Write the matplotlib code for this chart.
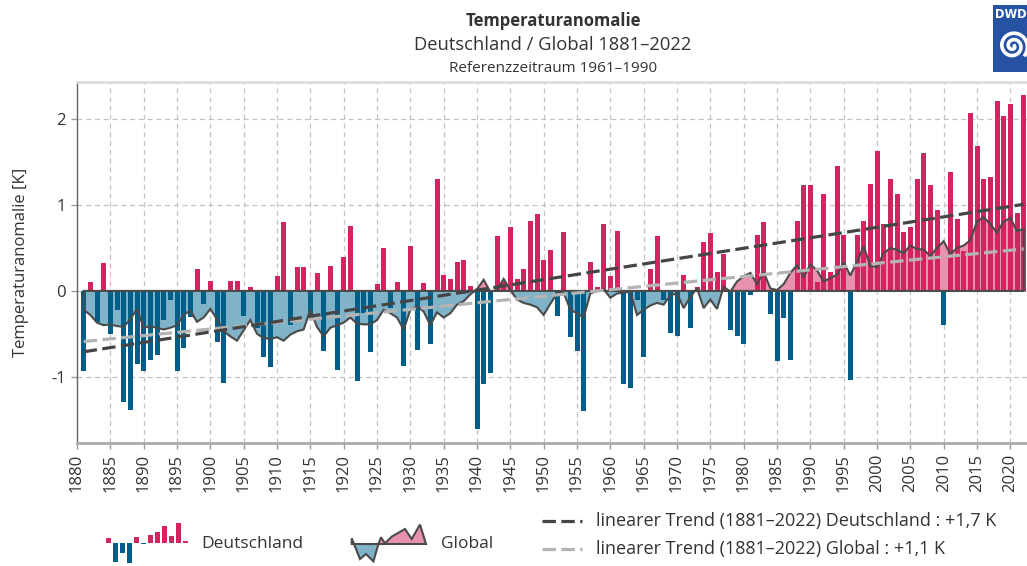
import numpy as np
import matplotlib
matplotlib.use("Agg")
import matplotlib.pyplot as plt
from matplotlib.lines import Line2D

plt.rcParams['font.family'] = ['Open Sans', 'DejaVu Sans']
plt.rcParams['axes.unicode_minus'] = False

# ---------------- data ----------------
years = np.arange(1881, 2023)

de_anomaly = [
    -0.93, 0.10, -0.36, 0.32, -0.50, -0.22, -1.29, -1.39, -0.85, -0.93,   # 1881-1890
    -0.81, -0.75, -0.34, -0.11, -0.93, -0.66, -0.30, 0.26, -0.15, 0.11,    # 1891-1900
    -0.60, -1.07, 0.11, 0.11, -0.29, 0.04, -0.43, -0.77, -0.89, 0.17,      # 1901-1910
    0.80, -0.40, 0.28, 0.28, -0.28, 0.21, -0.70, 0.29, -0.92, 0.39,        # 1911-1920
    0.76, -1.05, -0.26, -0.71, 0.08, 0.50, -0.20, 0.10, -0.87, 0.52,       # 1921-1930
    -0.69, 0.09, -0.62, 1.30, 0.18, 0.14, 0.34, 0.36, 0.06, -1.61,         # 1931-1940
    -1.08, -0.96, 0.64, 0.10, 0.74, 0.14, 0.26, 0.81, 0.90, 0.36,          # 1941-1950
    0.48, -0.29, 0.69, -0.54, -0.70, -1.40, 0.34, 0.05, 0.78, 0.17,        # 1951-1960
    0.70, -1.09, -1.13, -0.11, -0.77, 0.26, 0.64, -0.10, -0.49, -0.53,     # 1961-1970
    0.18, -0.43, 0.05, 0.57, 0.68, 0.22, 0.43, -0.45, -0.52, -0.62,        # 1971-1980
    -0.05, 0.65, 0.80, -0.27, -0.82, -0.31, -0.80, 0.82, 1.23, 1.24,       # 1981-1990
    0.10, 1.13, 0.22, 1.46, 0.65, -1.04, 0.65, 0.82, 1.25, 1.63,           # 1991-2000
    0.78, 1.31, 1.13, 0.69, 0.75, 1.30, 1.61, 1.23, 0.94, -0.40,           # 2001-2010
    1.39, 0.84, 0.47, 2.08, 1.69, 1.30, 1.33, 2.21, 2.04, 2.18,            # 2011-2020
    0.91, 2.28,                                                            # 2021-2022
]

global_anomaly = [
    -0.22, -0.28, -0.37, -0.40, -0.39, -0.41, -0.42, -0.33, -0.21, -0.43,  # 1881-1890
    -0.41, -0.43, -0.45, -0.43, -0.40, -0.28, -0.23, -0.36, -0.31, -0.21,  # 1891-1900
    -0.33, -0.47, -0.53, -0.58, -0.46, -0.34, -0.50, -0.55, -0.56, -0.54,  # 1901-1910
    -0.58, -0.51, -0.47, -0.45, -0.22, -0.42, -0.53, -0.43, -0.40, -0.37,  # 1911-1920
    -0.31, -0.38, -0.39, -0.39, -0.34, -0.22, -0.26, -0.31, -0.45, -0.22,  # 1921-1930
    -0.18, -0.24, -0.40, -0.25, -0.31, -0.26, -0.16, -0.12, -0.04, 0.02,   # 1931-1940
    0.13, -0.01, 0.01, 0.14, 0.01, -0.10, -0.14, -0.16, -0.19, -0.28,      # 1941-1950
    -0.15, -0.03, -0.02, -0.22, -0.26, -0.31, -0.03, 0.00, 0.02, -0.08,    # 1951-1960
    -0.03, -0.02, -0.01, -0.28, -0.22, -0.17, -0.14, -0.16, -0.05, -0.03,  # 1961-1970
    -0.20, -0.07, 0.03, -0.20, -0.10, -0.21, 0.05, -0.01, 0.11, 0.17,      # 1971-1980
    0.21, 0.08, 0.22, 0.03, 0.01, 0.08, 0.21, 0.30, 0.16, 0.31,            # 1981-1990
    0.24, 0.11, 0.15, 0.19, 0.33, 0.18, 0.34, 0.52, 0.29, 0.28,            # 1991-2000
    0.44, 0.50, 0.48, 0.44, 0.53, 0.49, 0.48, 0.41, 0.50, 0.58,            # 2001-2010
    0.43, 0.50, 0.53, 0.59, 0.81, 0.86, 0.78, 0.68, 0.81, 0.85,            # 2011-2020
    0.70, 0.72,                                                            # 2021-2022
]

trend_years = [1881, 2022]
trend_de = [-0.71, 1.01]
trend_global = [-0.59, 0.49]

x_ticks = list(range(1880, 2021, 5))
y_ticks = [-1, 0, 1, 2]

# legend icon data (decorative mini-charts)
icon_de_values = [0.30, -1.05, -0.55, -1.10, 0.35, -0.08, 0.45, 0.60, 0.95, 0.40, 1.15, 0.12]
icon_gl_x = [0, 8.3, 14.3, 21.7, 26.7, 29.3, 33.3, 40, 53.3, 60, 68.3, 74.3]
icon_gl_values = [0.34, -0.90, -0.60, -1.04, 0.0, 0.40, 0.04, 0.44, 0.90, 0.30, 1.16, 0.0]

# ---------------- style ----------------
C_POS = '#d3245d'
C_NEG = '#005f88'
C_FILL_NEG = '#80b2c8'
C_FILL_POS = '#e892ae'
C_LINE = '#4a4a4a'
C_TREND_DE = '#454545'
C_TREND_GL = '#b4b4b4'
C_TEXT = '#333333'
W, H = 1027, 566

de = np.array(de_anomaly)
gl = np.array(global_anomaly)

fig = plt.figure(figsize=(W / 100, H / 100), dpi=100)
fig.patch.set_facecolor('white')

ax = fig.add_axes([77 / W, 1 - 442.7 / H, (1027 - 77) / W, (442.7 - 81.7) / H])
ax.set_xlim(1880, 2022.5)
ax.set_ylim(-1.77, 2.44)

# global area
ax.fill_between(years, gl, 0, where=gl >= 0, interpolate=True, color=C_FILL_POS, lw=0, zorder=1)
ax.fill_between(years, gl, 0, where=gl <= 0, interpolate=True, color=C_FILL_NEG, lw=0, zorder=1)

# Germany bars
bar_colors = [C_POS if v >= 0 else C_NEG for v in de]
ax.bar(years, de, width=0.75, color=bar_colors, edgecolor='none', zorder=2)

# global outline (closed with baseline)
ax.fill(np.r_[years[0], years, years[-1]], np.r_[0, gl, 0], fill=False,
        edgecolor=C_LINE, lw=1.5, zorder=3, joinstyle='miter')

# trends
ax.plot(trend_years, trend_global, color=C_TREND_GL, lw=2.3, ls=(0, (4.2, 1.7)), zorder=4)
ax.plot(trend_years, trend_de, color=C_TREND_DE, lw=2.3, ls=(0, (4.2, 1.7)), zorder=5)

ax.set_xticks(x_ticks)
ax.set_xticklabels([str(t) for t in x_ticks], rotation=90)
ax.set_yticks(y_ticks)
ax.set_yticklabels([str(t) for t in y_ticks])
ax.tick_params(axis='both', labelsize=12, colors=C_TEXT, length=4, width=1, pad=4)
ax.tick_params(axis='both', color='#999999')
ax.grid(True, ls=(0, (4, 3)), color='#c2c2c2', lw=0.9, zorder=0)
ax.set_axisbelow(True)

ax.spines['right'].set_visible(False)
ax.spines['left'].set_color('#666666')
ax.spines['left'].set_linewidth(1.0)
ax.spines['bottom'].set_color('#aaaaaa')
ax.spines['bottom'].set_linewidth(2.0)
ax.spines['top'].set_color('#dddddd')
ax.spines['top'].set_linewidth(2.0)

ax.set_ylabel('Temperaturanomalie [K]', fontsize=12, color=C_TEXT)
ax.yaxis.set_label_coords(-48 / 950, (442.7 - 262) / (442.7 - 81.7))

# titles
cx = 553 / W
fig.text(cx, 1 - 21 / H, 'Temperaturanomalie', ha='center', va='center',
         fontsize=12, fontweight='bold', color=C_TEXT)
fig.text(cx, 1 - 45 / H, 'Deutschland / Global 1881–2022', ha='center', va='center',
         fontsize=13.2, color=C_TEXT)
fig.text(cx, 1 - 68 / H, 'Referenzzeitraum 1961–1990', ha='center', va='center',
         fontsize=11, color=C_TEXT)

# legend: Germany bar icon
iax = fig.add_axes([104 / W, 1 - 568 / H, 86 / W, 50 / H])
iax.axis('off')
iax.bar(range(len(icon_de_values)), icon_de_values, width=0.75,
        color=[C_POS if v >= 0 else C_NEG for v in icon_de_values])
iax.set_xlim(-0.6, len(icon_de_values) - 0.4)
iax.set_ylim(-1.41, 1.41)
fig.text(201 / W, 1 - 544 / H, 'Deutschland', ha='left', va='center', fontsize=12.5, color=C_TEXT)

# legend: Global area icon
gax = fig.add_axes([350 / W, 1 - 568 / H, 80 / W, 50 / H])
gax.axis('off')
gx = np.array(icon_gl_x)
gy = np.array(icon_gl_values)
gax.fill_between(gx, gy, 0, where=gy >= 0, interpolate=True, color=C_FILL_POS, lw=0)
gax.fill_between(gx, gy, 0, where=gy <= 0, interpolate=True, color=C_FILL_NEG, lw=0)
gax.fill(np.r_[gx[0], gx, gx[-1]], np.r_[0, gy, 0], fill=False, edgecolor=C_LINE, lw=1.5)
gax.set_xlim(-1.7, 78.3)
gax.set_ylim(-24 / 16.7, 26 / 16.7)
fig.text(441 / W, 1 - 544 / H, 'Global', ha='left', va='center', fontsize=12.5, color=C_TEXT)

# legend: trend lines
for yy, col, lab in [(521, C_TREND_DE, 'linearer Trend (1881–2022) Deutschland : +1,7 K'),
                     (549, C_TREND_GL, 'linearer Trend (1881–2022) Global : +1,1 K')]:
    fig.add_artist(Line2D([542 / W, 582 / W], [1 - yy / H, 1 - yy / H], transform=fig.transFigure,
                          color=col, lw=2.3, ls=(0, (4.2, 1.7))))
    fig.text(596 / W, 1 - yy / H, lab, ha='left', va='center', fontsize=13, color=C_TEXT)

# DWD logo
lax = fig.add_axes([993 / W, 1 - 72 / H, 42 / W, 67 / H])
lax.set_xlim(0, 42)
lax.set_ylim(0, 67)
lax.set_facecolor('#2552a2')
for s in lax.spines.values():
    s.set_visible(False)
lax.set_xticks([])
lax.set_yticks([])
lax.text(1.5, 58, 'DWD', color='white', fontsize=8.3, fontweight='bold', ha='left', va='center',
         family=['DejaVu Sans'])
th = np.linspace(0, 4.2 * np.pi, 300)
r = 1.5 + 13.5 * th / th[-1]
lax.plot(20 + r * np.cos(-th), 26 + r * np.sin(-th), color='white', lw=2.6)

fig.savefig('out.png', dpi=100, facecolor='white')
